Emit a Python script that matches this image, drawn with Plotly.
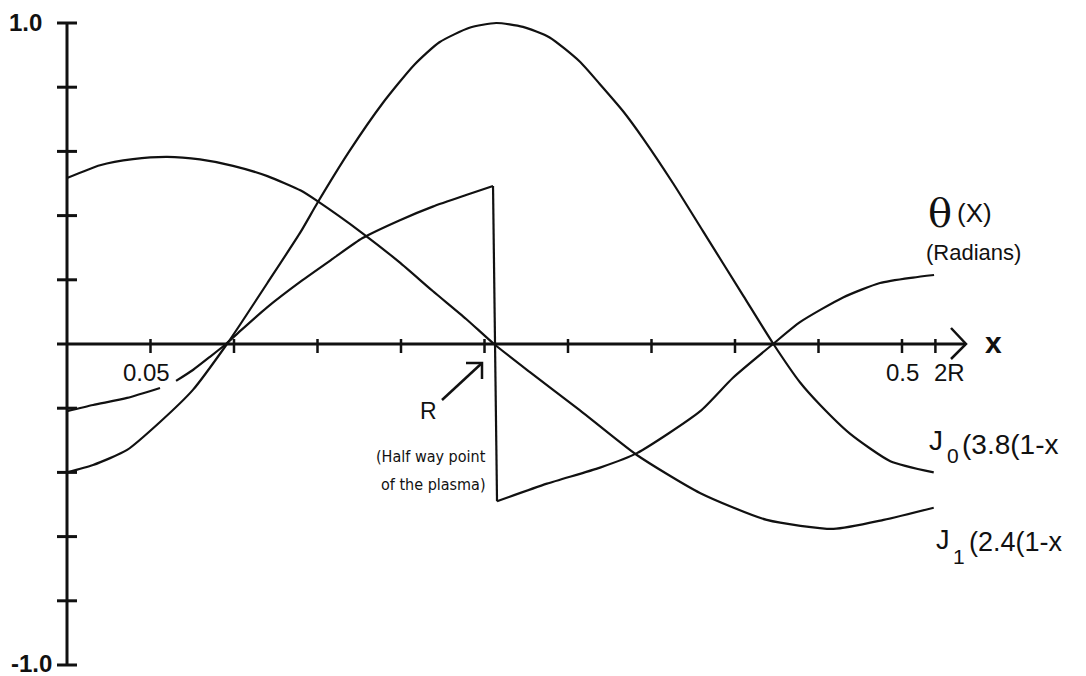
import plotly.graph_objects as go

# ---- curve samples -------------------------------------------------------
# J0(3.8(1-x)) profile
j0_x = [0.0, 0.0156, 0.036, 0.0557, 0.0754, 0.0958, 0.1036, 0.12, 0.14, 0.15,
        0.169, 0.189, 0.208, 0.223, 0.241, 0.257, 0.273, 0.289, 0.307, 0.319,
        0.333, 0.345, 0.363, 0.381, 0.405, 0.423, 0.439, 0.451, 0.469, 0.493, 0.519]
j0_y = [-0.40, -0.377, -0.33, -0.243, -0.143, 0.0, 0.06, 0.19, 0.35, 0.44,
        0.60, 0.75, 0.87, 0.94, 0.985, 1.0, 0.988, 0.955, 0.88, 0.81,
        0.725, 0.64, 0.50, 0.35, 0.15, 0.0, -0.12, -0.19, -0.28, -0.365, -0.40]

# J1(2.4(1-x)) profile
j1_x = [0.0, 0.0198, 0.0395, 0.06, 0.0796, 0.0994, 0.12, 0.14, 0.15, 0.177,
        0.199, 0.219, 0.239, 0.2557, 0.277, 0.307, 0.341, 0.379, 0.419, 0.459,
        0.489, 0.519]
j1_y = [0.517, 0.557, 0.576, 0.583, 0.575, 0.555, 0.523, 0.478, 0.445, 0.345,
        0.255, 0.165, 0.078, 0.0, -0.087, -0.206, -0.345, -0.464, -0.548, -0.576,
        -0.548, -0.51]

# theta(x) in radians, with a break where the 0.05 label sits
th_x = [0.0, 0.0156, 0.036, 0.0557, None, 0.0653, 0.0754, 0.0856, 0.0952, 0.1036,
        0.12, 0.14, 0.159, 0.177, 0.199, 0.219, 0.239, 0.2551, 0.2575, 0.2874,
        0.3192, 0.3413, 0.379, 0.3988, 0.4228, 0.4389, 0.4647, 0.4868, 0.5066, 0.5192]
th_y = [-0.209, -0.19, -0.168, -0.137, None, -0.115, -0.081, -0.04, 0.0, 0.04,
        0.115, 0.195, 0.265, 0.33, 0.385, 0.428, 0.464, 0.492, -0.49, -0.435,
        -0.385, -0.34, -0.21, -0.105, 0.0, 0.068, 0.145, 0.19, 0.207, 0.215]

# axis ticks
x_ticks = [0.05, 0.10, 0.15, 0.20, 0.25, 0.30, 0.35, 0.40, 0.45, 0.50, 0.52]
x_tick_text = {0.05: "0.05", 0.50: "0.5", 0.52: "2R"}
y_ticks = [-1.0, -0.8, -0.6, -0.4, -0.2, 0.2, 0.4, 0.6, 0.8, 1.0]

# ---- geometry ------------------------------------------------------------
W, H = 1086, 676
X_ORG, Y_ORG = 67, 344          # pixel position of the origin
SX, SY = 1670.0, 321.0          # pixels per unit on x and y
x_range = [-X_ORG / SX, (W - X_ORG) / SX]
y_range = [-(H - Y_ORG) / SY, Y_ORG / SY]

def dx(p):
    return p / SX

def dy(p):
    return p / SY

FONT = "Liberation Sans"
INK = "#111111"
CURVE = dict(color=INK, width=2.2)

fig = go.Figure()

def add_curve(xs, ys, shape="spline"):
    fig.add_trace(go.Scatter(x=xs, y=ys, mode="lines",
                             line=dict(CURVE, shape=shape, smoothing=0.6),
                             connectgaps=False, hoverinfo="skip",
                             showlegend=False))

add_curve(j0_x, j0_y)
add_curve(j1_x, j1_y)
# theta: smooth pieces either side of the jump, joined by the jump itself
jump = th_x.index(0.2551)
add_curve(th_x[:jump + 1], th_y[:jump + 1])
add_curve(th_x[jump:jump + 2], th_y[jump:jump + 2], shape="linear")
add_curve(th_x[jump + 1:], th_y[jump + 1:])

shapes = []
axis_line = dict(color=INK, width=3)
# vertical axis
shapes.append(dict(type="line", xref="x", yref="y", x0=0, x1=0, y0=-1.0, y1=1.0,
                   line=axis_line))
for yv in y_ticks:
    shapes.append(dict(type="line", xref="x", yref="y", x0=-dx(10), x1=dx(10),
                       y0=yv, y1=yv, line=axis_line))
# horizontal axis with arrow
x_tip = dx(966 - X_ORG)
shapes.append(dict(type="line", xref="x", yref="y", x0=-dx(10), x1=x_tip,
                   y0=0, y1=0, line=axis_line))
shapes.append(dict(type="path", xref="x", yref="y",
                   path=f"M {x_tip - dx(15)},{dy(16)} L {x_tip},0 L {x_tip - dx(15)},{-dy(15)}",
                   line=dict(color=INK, width=2.5)))
for xv in x_ticks:
    shapes.append(dict(type="line", xref="x", yref="y", x0=xv, x1=xv,
                       y0=dy(5), y1=-dy(9), line=dict(color=INK, width=2.5)))

def P(px, py):
    return px / W, 1 - py / H

# arrow pointing at R
ax0, ay0 = P(442, 400)
ax1, ay1 = P(482, 363)
shapes.append(dict(type="line", xref="paper", yref="paper", x0=ax0, y0=ay0,
                   x1=ax1, y1=ay1, line=dict(color=INK, width=2.5)))
h0 = P(466, 363)
h1 = P(482, 363)
h2 = P(482, 379)
shapes.append(dict(type="path", xref="paper", yref="paper",
                   path=f"M {h0[0]},{h0[1]} L {h1[0]},{h1[1]} L {h2[0]},{h2[1]}",
                   line=dict(color=INK, width=2.5)))

annotations = []

def txt(text, px, py, size, xanchor="center", bold=False, family=FONT):
    x, y = P(px, py)
    annotations.append(dict(text=f"<b>{text}</b>" if bold else text,
                            x=x, y=y, xref="paper", yref="paper",
                            xanchor=xanchor, yanchor="middle", showarrow=False,
                            font=dict(family=family, size=size, color=INK)))

# y-axis end labels
txt("1.0", 44, 22, 24, xanchor="right", bold=True)
txt("-1.0", 54, 663, 24, xanchor="right", bold=True)

# x-axis tick labels
for xv, label in x_tick_text.items():
    annotations.append(dict(text=label, x=xv, y=0, xref="x", yref="y",
                            xanchor="left" if label == "2R" else "center",
                            yanchor="middle",
                            xshift=-3 if label == "2R" else (-4 if label == "0.05" else 0),
                            yshift=-28, showarrow=False,
                            font=dict(family=FONT, size=24, color=INK)))
txt("x", 993, 342, 30, bold=True)

# half-way marker
NARROW = "DejaVu Sans Condensed, Liberation Sans Narrow, Liberation Sans"
txt("R", 428, 411, 23)
txt("(Half way point", 488, 457, 16, xanchor="right", family=NARROW)
txt("of the plasma)", 488, 484, 16, xanchor="right", family=NARROW)

# curve labels
txt("θ", 940, 213, 40, family="DejaVu Serif")
txt("(X)", 955, 213, 26, xanchor="left")
txt("(Radians)", 973, 253, 22)

txt("J", 927, 441, 28, xanchor="left")
txt("0", 945, 455, 21, xanchor="left")
txt("(3.8(1-x", 960, 444, 28, xanchor="left")
txt("J", 934, 540, 27, xanchor="left")
txt("1", 951, 556, 21, xanchor="left")
txt("(2.4(1-x", 967, 542, 27, xanchor="left")

fig.update_layout(
    width=W, height=H,
    margin=dict(l=0, r=0, t=0, b=0),
    paper_bgcolor="white", plot_bgcolor="white",
    xaxis=dict(range=x_range, visible=False, fixedrange=True),
    yaxis=dict(range=y_range, visible=False, fixedrange=True),
    shapes=shapes, annotations=annotations,
    showlegend=False,
)

fig.write_html("out.html")
